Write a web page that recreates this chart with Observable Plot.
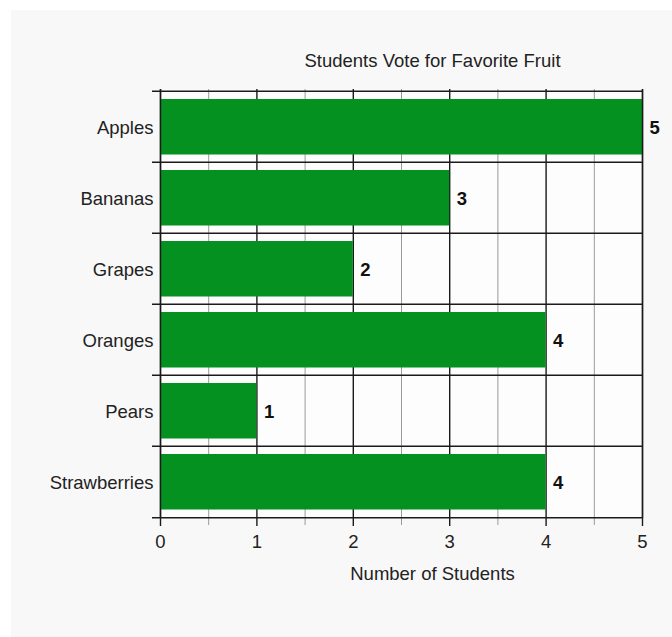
<!DOCTYPE html>
<html>
<head>
<meta charset="utf-8">
<script src="https://cdn.jsdelivr.net/npm/d3@7"></script>
<script src="https://cdn.jsdelivr.net/npm/@observablehq/plot@0.6"></script>
<style>
  html, body { margin: 0; padding: 0; background: #ffffff; }
  #bg { position: absolute; left: 11px; top: 10px; width: 661px; height: 627px; background: #f8f8f8; }
  #chart { position: absolute; left: 0; top: 0; }
</style>
</head>
<body>
<div id="bg"></div>
<div id="chart"></div>
<script>
const fruits = ["Apples", "Bananas", "Grapes", "Oranges", "Pears", "Strawberries"];
const votes = [5, 3, 2, 4, 1, 4];
const majorTicks = [0, 1, 2, 3, 4, 5];
const minorTicks = [0.5, 1.5, 2.5, 3.5, 4.5];
const title = "Students Vote for Favorite Fruit";
const xLabel = "Number of Students";

const data = fruits.map((f, i) => ({fruit: f, votes: votes[i]}));

const W = 672, H = 637;
const mT = 89, mB = 119, mL = 160, mR = 30;
const step = (H - mT - mB) / fruits.length;
const green = "#05911f";
const dark = "#222";
const font = "'Liberation Sans', Arial, Helvetica, sans-serif";
const fs = 18.5;

const chart = Plot.plot({
  width: W,
  height: H,
  marginTop: mT,
  marginBottom: mB,
  marginLeft: mL,
  marginRight: mR,
  style: {fontFamily: font, fontSize: fs + "px", background: "transparent", color: dark},
  x: {domain: [0, 5]},
  y: {domain: fruits, padding: 0},
  marks: [
    Plot.frame({fill: "#fdfdfd", stroke: null}),
    Plot.ruleX(minorTicks, {stroke: "#9a9a9a", strokeWidth: 1, insetBottom: -7}),
    Plot.ruleX(majorTicks, {stroke: "#1a1a1a", strokeWidth: 1.4, insetBottom: -8}),
    Plot.ruleY(fruits, {y: d => d, dy: -step / 2, stroke: "#1a1a1a", strokeWidth: 1.4, insetLeft: -8}),
    Plot.ruleY([fruits[fruits.length - 1]], {y: d => d, dy: step / 2, stroke: "#1a1a1a", strokeWidth: 1.4, insetLeft: -8}),
    Plot.barX(data, {x1: 0, x2: "votes", y: "fruit", fill: green, insetTop: 8, insetBottom: 7.5}),
    Plot.ruleX([0, 5], {stroke: "#1a1a1a", strokeWidth: 1.4}),
    Plot.text(data, {x: "votes", y: "fruit", text: d => String(d.votes), textAnchor: "start", dx: 7, dy: 1, fontWeight: "bold", fontSize: fs, fill: "#111"}),
    Plot.axisY({tickSize: 0, tickPadding: 7, dy: 1.5, label: null, fontSize: fs, fill: dark}),
    Plot.axisX({ticks: majorTicks, tickSize: 0, tickPadding: 16, tickFormat: d3.format("d"), label: null, fontSize: fs, fill: dark}),
    Plot.text([title], {frameAnchor: "top", text: d => d, dy: -36, dx: 31, fontSize: fs, fill: dark}),
    Plot.text([xLabel], {frameAnchor: "bottom", text: d => d, dy: 61, dx: 31, fontSize: fs, fill: dark})
  ]
});
document.getElementById("chart").appendChild(chart);
</script>
</body>
</html>
